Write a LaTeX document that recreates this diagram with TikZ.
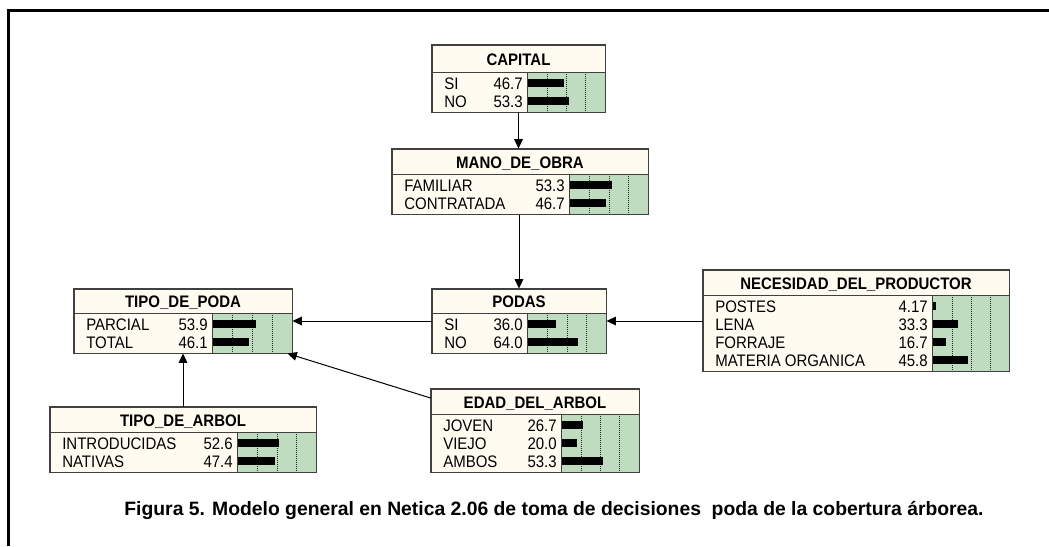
\documentclass[tikz,border=0pt]{standalone}
\usepackage{fontspec}
\usepackage{graphicx}
\setmainfont{Liberation Sans}
\usetikzlibrary{arrows.meta}
\definecolor{cream}{HTML}{FFFBF0}
\definecolor{barbg}{HTML}{C0DCC0}
\definecolor{edge}{HTML}{404040}
\newcommand\ttl[1]{\scalebox{0.9}[1]{\fontsize{12.5}{12.5}\selectfont\bfseries #1}}
\newcommand\rtx[1]{\scalebox{0.9}[1]{\fontsize{12.5}{12.5}\selectfont #1}}
\tikzset{
  box/.style={draw=edge, fill=cream, inner sep=0pt, line width=0.75pt},
  frameline/.style={draw=edge, line width=0.75pt},
  gridline/.style={black!85, line width=0.75pt, dash pattern=on 0.75pt off 0.75pt},
  txt/.style={inner sep=0pt, text height=9pt, text depth=0pt},
  conn/.style={draw=black, line width=0.75pt, -{Triangle[length=7pt,width=6.5pt]}},
}
% #1 name, #2 L, #3 T, #4 R, #5 B, #6 sep, #7 barx, #8 title, #9 rows
\newcommand\netbox[9]{%
  \pgfmathsetmacro\bw{(#4-#2)*0.75}%
  \pgfmathsetmacro\bh{(#5-#3)*0.75}%
  \node[box, minimum width=\bw pt, minimum height=\bh pt] (#1) at ({(#2+#4)/2},{(#3+#5)/2}) {};
  \fill[barbg] (#7,#6) rectangle (#4,#5);
  \foreach \k in {1,2,3} {\draw[gridline] ({#7+1+(#4-#7-1)*\k/4},#6) -- ({#7+1+(#4-#7-1)*\k/4},#5);}
  \draw[frameline] (#2,#6) -- (#4,#6);
  \draw[frameline] (#7,#6) -- (#7,#5);
  \node[txt] at ({(#2+#4)/2},{(#3+#6)/2+0.5}) {\ttl{#8}};
  \foreach [count=\i] \lab/\val in {#9} {%
    \pgfmathsetmacro\ry{#6+11+18*(\i-1)}%
    \node[txt, anchor=west] at (#2+12,\ry) {\rtx{\lab}};
    \node[txt, anchor=east] at (#7-4,\ry) {\rtx{\val}};
    \fill[black] ({#7+1},{\ry-4}) rectangle ++({\val/100*(#4-#7-1)},8);
  }
  \draw[frameline] (#1.south west) rectangle (#1.north east);
}
\begin{document}
\begin{tikzpicture}[x=0.75pt,y=-0.75pt]
\useasboundingbox (0,0) rectangle (1049,546);
% frame
\draw[line width=2.25pt, line join=miter] (8.5,546) -- (8.5,10.5) -- (1049,10.5);

\netbox{capital}{432}{45}{605}{112}{72}{527}{CAPITAL}{SI/46.7, NO/53.3}
\netbox{mano}{392}{149}{648}{214}{174}{569}{MANO\_DE\_OBRA}{FAMILIAR/53.3, CONTRATADA/46.7}
\netbox{tpoda}{74}{289}{292}{353}{313}{212}{TIPO\_DE\_PODA}{PARCIAL/53.9, TOTAL/46.1}
\netbox{podas}{432}{289}{606}{353}{313}{527}{PODAS}{SI/36.0, NO/64.0}
\netbox{nec}{703}{270}{1009}{371}{295}{932}{NECESIDAD\_DEL\_PRODUCTOR}{POSTES/4.17, LENA/33.3, FORRAJE/16.7, MATERIA ORGANICA/45.8}
\netbox{tarbol}{50}{407}{316}{472}{432}{237}{TIPO\_DE\_ARBOL}{INTRODUCIDAS/52.6, NATIVAS/47.4}
\netbox{edad}{431}{389}{639}{472}{414}{561}{EDAD\_DEL\_ARBOL}{JOVEN/26.7, VIEJO/20.0, AMBOS/53.3}

% connectors
\draw[conn] (capital.south) -- (capital.south |- mano.north);
\draw[conn] (podas.north |- mano.south) -- (podas.north);
\draw[conn] (nec.west |- podas.east) -- (podas.east);
\draw[conn] (podas.west) -- (podas.west -| tpoda.east);
\draw[conn] (tarbol.north) -- (tarbol.north |- tpoda.south);
\draw[conn] (edad) -- (tpoda);

% caption
\node[anchor=base, inner sep=0pt] (cap) at (554,515) {\fontsize{14.5}{14.5}\selectfont\bfseries Figura 5. Modelo general en Netica 2.06 de toma de decisiones\ \ poda de la cobertura árborea.};
\end{tikzpicture}
\end{document}
